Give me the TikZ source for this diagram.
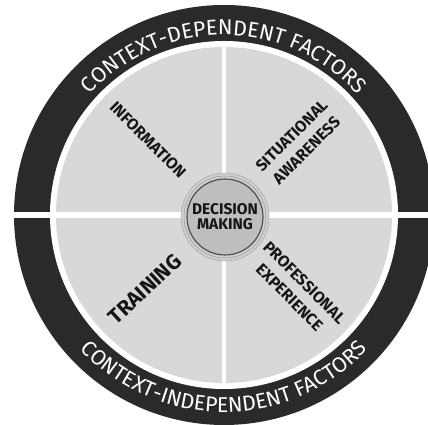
\documentclass[tikz,border=0pt]{standalone}
\usepackage{fontspec}
\setmainfont{Fira Sans}
\usetikzlibrary{calc,decorations.text}
\definecolor{ringdark}{HTML}{2A2A2A}
\definecolor{disc}{HTML}{D8D8D8}
\definecolor{hub}{HTML}{BEBEBE}
\definecolor{hubedge}{HTML}{474747}
\definecolor{halo}{HTML}{CFCFCF}
\definecolor{labelink}{HTML}{151515}
\newcommand\ringtext{\fontsize{21.5}{24}\selectfont}
\tikzset{
  seglabel/.style={text=labelink, font=\bfseries\fontsize{16}{21}\selectfont, align=center, inner sep=0pt},
  hubnode/.style={circle, minimum size=76pt, fill=hub, draw=hubedge, line width=1.1pt,
    text=labelink, font=\bfseries\fontsize{15.5}{15}\selectfont, align=center, inner sep=0pt},
  ringlabel/.style={decorate, decoration={text along path, text align=center, text color=white, text={#1}}}
}
\begin{document}
\begin{tikzpicture}[x=1pt,y=1pt]
\useasboundingbox (0,0) rectangle (428,425);
\coordinate (c) at (224,210);

% outer ring and inner disc
\fill[ringdark] (c) circle (210);
\fill[white] (c) circle (174);
\fill[disc] (c) circle (168);

% white dividers
\fill[white] ($(c)+(-216,-2.6)$) rectangle ($(c)+(216,2.6)$);
\fill[white] ($(c)+(-2.2,-170)$) rectangle ($(c)+(2.2,170)$);

% ring texts
\path[ringlabel={|\ringtext|CONTEXT-DEPENDENT FACTORS}]
  ($(c)+(160:180)$) arc[start angle=160, end angle=20, radius=180];
\path[ringlabel={|\ringtext|CONTEXT-INDEPENDENT FACTORS}]
  ($(c)+(200:197)$) arc[start angle=200, end angle=340, radius=197];

% hub
\coordinate (hc) at ($(c)+(1,-2)$);
\fill[halo] (hc) circle (44);
\draw[gray!70, line width=0.5pt] (hc) circle (44);
\draw[gray!80, line width=0.5pt] (hc) circle (41);
\node[hubnode] (dm) at (hc) {DECISION\\MAKING};

% sector labels
\node[seglabel, rotate=-45] (info) at (148,285) {INFORMATION};
\node[seglabel, rotate=45] (sa) at (299,282) {SITUATIONAL\\AWARENESS};
\node[seglabel, rotate=43, font=\bfseries\fontsize{21}{24}\selectfont] (train) at (145,136) {TRAINING};
\node[seglabel, rotate=-45] (pe) at (297,135) {PROFESSIONAL\\EXPERIENCE};
\end{tikzpicture}
\end{document}
